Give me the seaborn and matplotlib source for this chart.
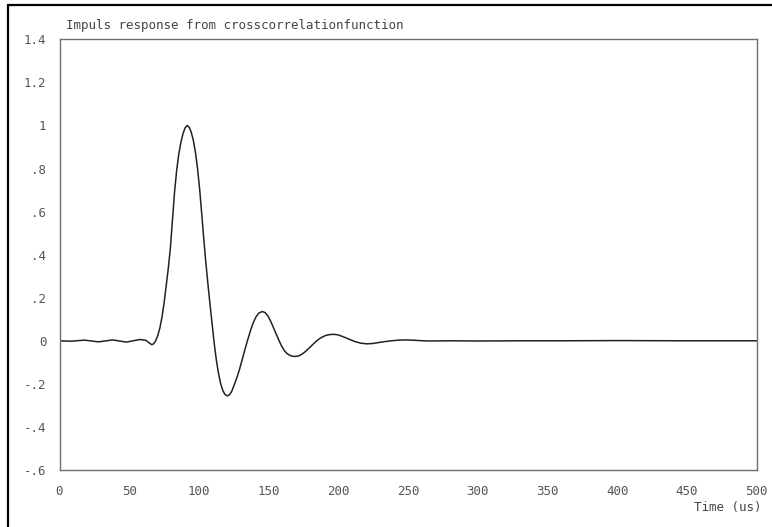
import matplotlib
matplotlib.use("Agg")
import matplotlib.pyplot as plt
from matplotlib.patches import Rectangle
import seaborn as sns
import pandas as pd

# Impulse response recovered from the cross-correlation function
time_us = [0, 8, 18, 28, 38, 48, 57.7, 62, 64, 66.1, 67.5, 69, 70.5, 72, 73.5,
           75, 76.5, 78, 79.5, 81, 82.5, 84, 85.5, 87, 88.5, 90, 91.6, 93,
           94.5, 96, 97.5, 99, 100.5, 102, 103.5, 105, 106.5, 108, 109.5, 111,
           112.5, 114, 115.5, 117, 118.5, 120.3, 122, 123.5, 125, 127, 129,
           131, 133, 135, 137, 139, 141, 143, 145.4, 147.5, 149.5, 151.5,
           153.5, 155.5, 157.5, 159.5, 161.5, 163.5, 166, 168.5, 171, 173.5,
           176, 179, 182, 185, 188, 191, 194, 197, 200, 203, 206, 209, 212,
           216, 220, 224, 228, 233, 238, 243, 248, 253, 258, 265, 280, 300,
           330, 360, 400, 450, 500]
amplitude = [0.0, -0.002, 0.003, -0.005, 0.004, -0.006, 0.006, 0.002, -0.008,
             -0.018, -0.014, 0.0, 0.025, 0.06, 0.11, 0.175, 0.255, 0.335, 0.43,
             0.56, 0.69, 0.79, 0.865, 0.92, 0.96, 0.988, 1.0, 0.992, 0.968,
             0.93, 0.875, 0.8, 0.705, 0.59, 0.47, 0.36, 0.26, 0.165, 0.075,
             -0.015, -0.09, -0.15, -0.197, -0.228, -0.248, -0.256, -0.25,
             -0.235, -0.21, -0.175, -0.135, -0.088, -0.04, 0.005, 0.048, 0.085,
             0.112, 0.129, 0.136, 0.131, 0.115, 0.09, 0.06, 0.03, 0.0, -0.027,
             -0.048, -0.061, -0.07, -0.073, -0.071, -0.064, -0.052, -0.034,
             -0.015, 0.003, 0.016, 0.025, 0.029, 0.03, 0.027, 0.02, 0.012,
             0.004, -0.004, -0.011, -0.014, -0.013, -0.009, -0.004, 0.0, 0.003,
             0.004, 0.003, 0.001, -0.001, 0.0, -0.001, 0.0, 0.0, 0.001, 0.0,
             0.0]

x_ticks = [0, 50, 100, 150, 200, 250, 300, 350, 400, 450, 500]
y_ticks = [1.4, 1.2, 1.0, 0.8, 0.6, 0.4, 0.2, 0.0, -0.2, -0.4, -0.6]
y_tick_labels = ["1.4", "1.2", "1", ".8", ".6", ".4", ".2", "0", "-.2", "-.4", "-.6"]

title_text = "Impuls response from crosscorrelationfunction"
x_label = "Time (us)"

sns.set_style("white")
plt.rcParams["font.family"] = ["DejaVu Sans Mono", "DejaVu Sans"]

df = pd.DataFrame({"t": time_us, "v": amplitude})

fig = plt.figure(figsize=(7.72, 5.27), dpi=100)
ax = fig.add_axes([59.5 / 772, 1 - 470 / 527, (756.7 - 59.5) / 772, (470 - 39.3) / 527])

sns.lineplot(data=df, x="t", y="v", ax=ax, color="#222222", linewidth=1.1,
             estimator=None, sort=False)
for ln in ax.lines:
    ln.set_solid_joinstyle("round")

ax.set_xlim(0, 500)
ax.set_ylim(-0.6, 1.4)
ax.set_xticks(x_ticks)
ax.set_xticklabels([str(t) for t in x_ticks])
ax.set_yticks(y_ticks)
ax.set_yticklabels(y_tick_labels)
ax.set_xlabel("")
ax.set_ylabel("")

for side in ["left", "right", "top", "bottom"]:
    ax.spines[side].set_visible(True)
    ax.spines[side].set_color("#6f6f6f")
    ax.spines[side].set_linewidth(1.0)

ax.tick_params(axis="both", direction="out", length=4.5, width=0.9,
               color="#6f6f6f", labelcolor="#555555", labelsize=9)
ax.tick_params(axis="x", pad=6)
ax.tick_params(axis="y", pad=5)

# Title and axis label placed as free text
fig.text(66 / 772, 1 - 26 / 527, title_text, ha="left", va="center",
         fontsize=9, color="#444444")
fig.text(762 / 772, 1 - 507 / 527, x_label, ha="right", va="center",
         fontsize=9, color="#444444")

# Outer frame around the figure
fig.patches.append(Rectangle((8 / 772, -0.05), 1.2, 1 - 5 / 527 + 0.05,
                             transform=fig.transFigure, fill=False,
                             edgecolor="black", linewidth=1.6, zorder=10))

fig.savefig("out.png", dpi=100)
